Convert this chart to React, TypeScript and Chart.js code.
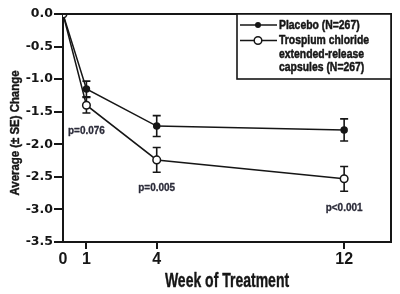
import React, { useEffect, useRef } from "react";
import { Chart, registerables } from "chart.js";

Chart.register(...registerables);

// Weeks of treatment and mean change from baseline (± SE)
const weeks = [0, 1, 4, 12];
const placeboMean = [0, -1.15, -1.72, -1.78];
const placeboSE = [0, 0.12, 0.16, 0.17];
const trospiumMean = [0, -1.4, -2.24, -2.53];
const trospiumSE = [0, 0.12, 0.19, 0.19];

const xTicks = [0, 1, 4, 12];
const yMin = -3.5;
const yMax = 0;

// p-value annotations (week, vertical position in change units)
const pWeeks = [1, 4, 12];
const pPositions = [-1.8, -2.67, -2.98];
const pTexts = ["p=0.076", "p=0.005", "p<0.001"];

const legendLabels = ["Placebo (N=267)", "Trospium chloride", "extended-release", "capsules (N=267)"];

const INK = "#161616";
const SANS = '"Liberation Sans", Arial, sans-serif';

// heavy text squeezed horizontally to imitate a condensed face
function condensedText(
  ctx: CanvasRenderingContext2D,
  text: string,
  x: number,
  y: number,
  size: number,
  squeeze: number,
  align: CanvasTextAlign,
  weight = 0.6
) {
  ctx.save();
  ctx.translate(x, y);
  ctx.scale(squeeze, 1);
  ctx.font = `bold ${size}px ${SANS}`;
  ctx.textAlign = align;
  ctx.textBaseline = "middle";
  ctx.fillText(text, 0, 0);
  if (weight > 0) {
    ctx.strokeStyle = ctx.fillStyle as string;
    ctx.lineWidth = weight;
    ctx.lineJoin = "round";
    ctx.strokeText(text, 0, 0);
  }
  ctx.restore();
}

const errorBars = {
  id: "errorBars",
  beforeDatasetsDraw(chart: any) {
    const { ctx, scales } = chart;
    const x = scales.x;
    const y = scales.y;
    const series = [
      { mean: placeboMean, se: placeboSE },
      { mean: trospiumMean, se: trospiumSE },
    ];
    ctx.save();
    ctx.strokeStyle = INK;
    ctx.lineWidth = 1.6;
    series.forEach((s) => {
      weeks.forEach((w, i) => {
        if (!s.se[i]) return;
        const px = x.getPixelForValue(w);
        const top = y.getPixelForValue(s.mean[i] + s.se[i]);
        const bot = y.getPixelForValue(s.mean[i] - s.se[i]);
        ctx.beginPath();
        ctx.moveTo(px, top);
        ctx.lineTo(px, bot);
        ctx.moveTo(px - 4, top);
        ctx.lineTo(px + 4, top);
        ctx.moveTo(px - 4, bot);
        ctx.lineTo(px + 4, bot);
        ctx.stroke();
      });
    });
    ctx.restore();
  },
};

const decorations = {
  id: "decorations",
  afterDraw(chart: any) {
    const { ctx, chartArea, scales } = chart;
    const { left, right, top, bottom } = chartArea;
    ctx.save();

    // frame: top and right edges
    ctx.strokeStyle = INK;
    ctx.lineWidth = 2;
    ctx.beginPath();
    ctx.moveTo(left, top);
    ctx.lineTo(right, top);
    ctx.lineTo(right, bottom);
    ctx.stroke();

    // p-values
    ctx.fillStyle = "#2c2c3a";
    pTexts.forEach((t, i) => {
      condensedText(ctx, t, scales.x.getPixelForValue(pWeeks[i]), scales.y.getPixelForValue(pPositions[i]), 10.5, 0.95, "center", 0.3);
    });

    // axis titles
    ctx.fillStyle = INK;
    ctx.save();
    ctx.translate(16, (top + bottom) / 2 + 5);
    ctx.rotate(-Math.PI / 2);
    condensedText(ctx, "Average (\u00B1 SE) Change", 0, 0, 12, 0.95, "center", 0.4);
    ctx.restore();

    condensedText(ctx, "Week of Treatment", (left + right) / 2, 281, 20, 0.7, "center", 0.4);

    // legend box
    const bx = 237;
    const by = top;
    const bw = right - bx;
    const bh = 65;
    ctx.fillStyle = "#ffffff";
    ctx.fillRect(bx, by, bw, bh);
    ctx.strokeStyle = INK;
    ctx.lineWidth = 1.6;
    ctx.strokeRect(bx, by, bw, bh);

    const rows = [25, 40.5, 54, 67];
    ctx.lineWidth = 1.5;
    // placebo sample
    ctx.beginPath();
    ctx.moveTo(240, rows[0]);
    ctx.lineTo(277, rows[0]);
    ctx.stroke();
    ctx.fillStyle = INK;
    ctx.beginPath();
    ctx.arc(258, rows[0], 3, 0, Math.PI * 2);
    ctx.fill();
    // trospium sample
    ctx.beginPath();
    ctx.moveTo(240, rows[1]);
    ctx.lineTo(277, rows[1]);
    ctx.stroke();
    ctx.fillStyle = "#ffffff";
    ctx.beginPath();
    ctx.arc(258, rows[1], 3.8, 0, Math.PI * 2);
    ctx.fill();
    ctx.stroke();

    ctx.fillStyle = INK;
    legendLabels.forEach((t, i) => condensedText(ctx, t, 279, rows[i], 13, 0.8, "left", 0.5));

    ctx.restore();
  },
};

export default function App() {
  const ref = useRef<HTMLCanvasElement | null>(null);

  useEffect(() => {
    document.body.style.margin = "0";
    const canvas = ref.current;
    if (!canvas) return;
    const chart = new Chart(canvas, {
      type: "line",
      data: {
        datasets: [
          {
            label: "Trospium chloride extended-release capsules (N=267)",
            data: weeks.map((w, i) => ({ x: w, y: trospiumMean[i] })),
            borderColor: INK,
            borderWidth: 1.5,
            pointRadius: 3.8,
            pointBackgroundColor: "#ffffff",
            pointBorderColor: INK,
            pointBorderWidth: 1.5,
            order: 0,
          },
          {
            label: "Placebo (N=267)",
            data: weeks.map((w, i) => ({ x: w, y: placeboMean[i] })),
            borderColor: INK,
            borderWidth: 1.5,
            pointRadius: 3,
            pointBackgroundColor: INK,
            pointBorderColor: INK,
            order: 1,
          },
        ],
      },
      options: {
        responsive: false,
        animation: false,
        layout: { padding: { top: 14, right: 9, left: 0, bottom: 0 } },
        plugins: { legend: { display: false }, tooltip: { enabled: false } },
        scales: {
          x: {
            type: "linear",
            min: 0,
            max: 14,
            afterBuildTicks: (scale: any) => {
              scale.ticks = xTicks.map((v) => ({ value: v }));
            },
            afterFit: (scale: any) => {
              scale.height = 52;
            },
            grid: {
              drawOnChartArea: false,
              drawTicks: true,
              tickLength: 7,
              lineWidth: 2,
              color: (c: any) => (c.tick && c.tick.value === 0 ? "rgba(0,0,0,0)" : INK),
            },
            border: { display: true, color: INK, width: 2 },
            ticks: {
              autoSkip: false,
              maxRotation: 0,
              padding: 1,
              color: INK,
              font: { family: SANS, size: 16, weight: "bold" },
              callback: (v: any) => String(v),
            },
          },
          y: {
            type: "linear",
            min: yMin,
            max: yMax,
            afterFit: (scale: any) => {
              scale.width = 63;
            },
            grid: {
              drawOnChartArea: false,
              drawTicks: true,
              tickLength: 9,
              lineWidth: 2,
              color: INK,
            },
            border: { display: true, color: INK, width: 2 },
            ticks: {
              stepSize: 0.5,
              padding: 1,
              color: INK,
              font: { family: '"DejaVu Sans", sans-serif', size: 12.5, weight: "bold" },
              callback: (v: any) => Number(v).toFixed(1),
            },
          },
        },
      },
      plugins: [errorBars, decorations],
    } as any);
    return () => chart.destroy();
  }, []);

  return (
    <div style={{ position: "relative", width: 400, height: 294, background: "#fff" }}>
      <canvas ref={ref} width={400} height={294} />
    </div>
  );
}
